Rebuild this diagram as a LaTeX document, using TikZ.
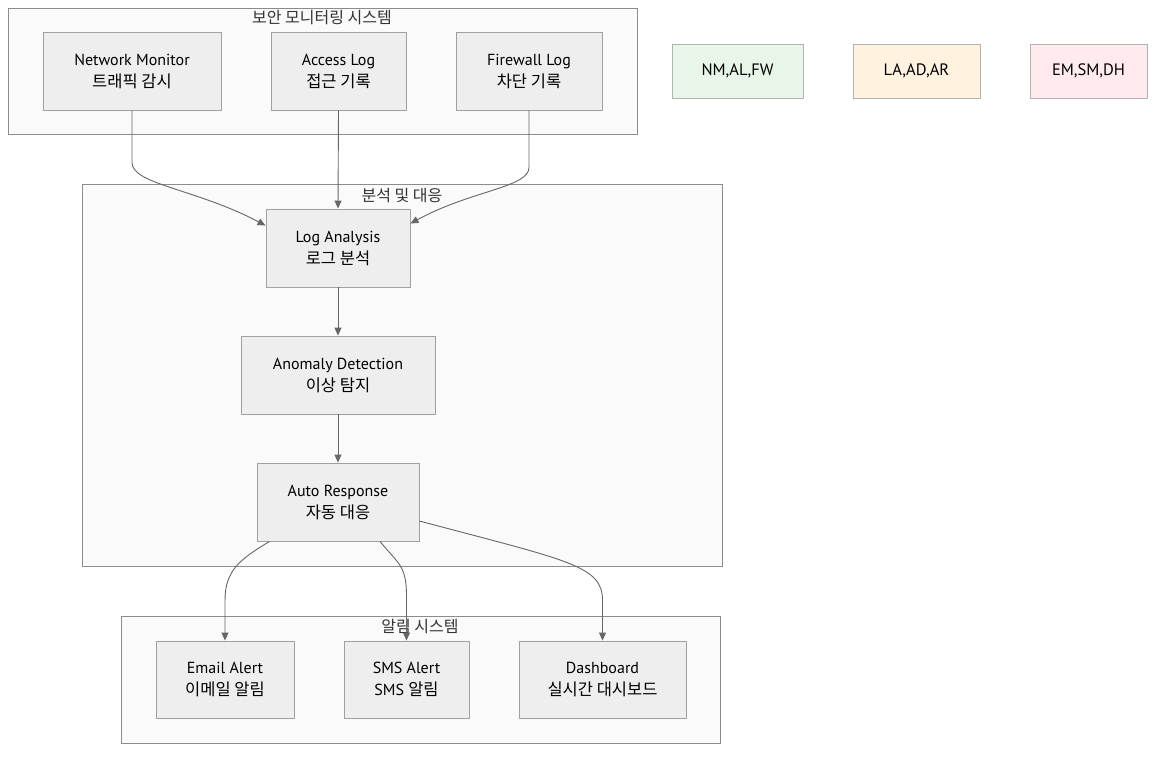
\documentclass[tikz,border=0pt]{standalone}
\usepackage{fontspec}
\setmainfont{PT Sans}
\newfontfamily\kr{Noto Sans CJK KR}
\usetikzlibrary{calc,arrows.meta}
\definecolor{nodefill}{HTML}{EEEEEE}
\definecolor{nodeline}{HTML}{A0A0A0}
\definecolor{clfill}{HTML}{FAFAFA}
\definecolor{clline}{HTML}{8C8C8C}
\definecolor{edge}{HTML}{666666}
\definecolor{lgA}{HTML}{E8F5E9}
\definecolor{lgB}{HTML}{FFF3E0}
\definecolor{lgC}{HTML}{FFEBEE}
\tikzset{
  box/.style={draw=nodeline, fill=nodefill, line width=0.9pt, align=center, font=\fontsize{16}{22}\selectfont, inner sep=0pt},
  cluster/.style={draw=clline, fill=clfill, line width=0.9pt},
  ctitle/.style={font=\kr\fontsize{16}{18}\selectfont, text=black!80, inner sep=0pt},
  legend/.style={draw=nodeline!80, line width=0.9pt, font=\fontsize{16.5}{18}\selectfont, inner sep=0pt},
  conn/.style={draw=edge, line width=0.9pt, -{Triangle[length=8pt,width=7pt]}},
}
\newcommand{\ko}[1]{{\kr\fontsize{16.5}{22}\selectfont #1}}
\begin{document}
\begin{tikzpicture}[x=1pt,y=-1pt]
\useasboundingbox (0,0) rectangle (1176,756);
% clusters
\draw[cluster] (8,8) rectangle (637,134);
\node[ctitle] (t1) at (322,18) {보안 모니터링 시스템};
\draw[cluster] (82,184) rectangle (722,566);
\node[ctitle] (t2) at (402,196) {분석 및 대응};
\draw[cluster] (121,616) rectangle (720,743);
\node[ctitle] (t3) at (420,627) {알림 시스템};
% top nodes
\node[box, minimum width=178, minimum height=78] (nm) at (132,71) {Network Monitor\\\ko{트래픽 감시}};
\node[box, minimum width=135, minimum height=78] (al) at (338.5,71) {Access Log\\\ko{접근 기록}};
\node[box, minimum width=146, minimum height=78] (fw) at (529,71) {Firewall Log\\\ko{차단 기록}};
% legend
\node[legend, fill=lgA, minimum width=131, minimum height=54] (lg1) at (737.5,71) {NM,AL,FW};
\node[legend, fill=lgB, minimum width=127, minimum height=54] (lg2) at (916.5,71) {LA,AD,AR};
\node[legend, fill=lgC, minimum width=117, minimum height=54] (lg3) at (1088.5,71) {EM,SM,DH};
% middle nodes
\node[box, minimum width=144, minimum height=78] (la) at (338,248) {Log Analysis\\\ko{로그 분석}};
\node[box, minimum width=194, minimum height=78] (ad) at (338,375) {Anomaly Detection\\\ko{이상 탐지}};
\node[box, minimum width=162, minimum height=78] (ar) at (338,502) {Auto Response\\\ko{자동 대응}};
% bottom nodes
\node[box, minimum width=138, minimum height=77] (ea) at (225,679.5) {Email Alert\\\ko{이메일 알림}};
\node[box, minimum width=125, minimum height=77] (sm) at (406.5,679.5) {SMS Alert\\SMS \ko{알림}};
\node[box, minimum width=167, minimum height=77] (db) at (602.5,679.5) {Dashboard\\\ko{실시간 대시보드}};
% connectors
\draw[conn] (nm.south) -- ++(0,52) .. controls +(0,22) and ($(la.north west)+(-70,-20)$) .. ($(la.north west)+(0,17)$);
\draw[conn] (al.south) -- (la.north);
\draw[conn] (fw.south) -- ++(0,57) .. controls +(0,20) and ($(la.north east)+(60,-18)$) .. ($(la.north east)+(0,15)$);
\draw[conn] (la.south) -- (ad.north);
\draw[conn] (ad.south) -- (ar.north);
\draw[conn] ($(ar.south west)+(13,0)$) .. controls +(-30,18) and ($(ea.north)+(0,-70)$) .. ($(ea.north)+(0,-40)$) -- (ea.north);
\draw[conn] ($(ar.south)+(42,0)$) .. controls +(18,22) and ($(sm.north)+(0,-75)$) .. ($(sm.north)+(0,-45)$) -- (sm.north);
\draw[conn] ($(ar.east)+(0,19)$) .. controls +(150,40) and ($(db.north)+(0,-75)$) .. ($(db.north)+(0,-40)$) -- (db.north);
\end{tikzpicture}
\end{document}
